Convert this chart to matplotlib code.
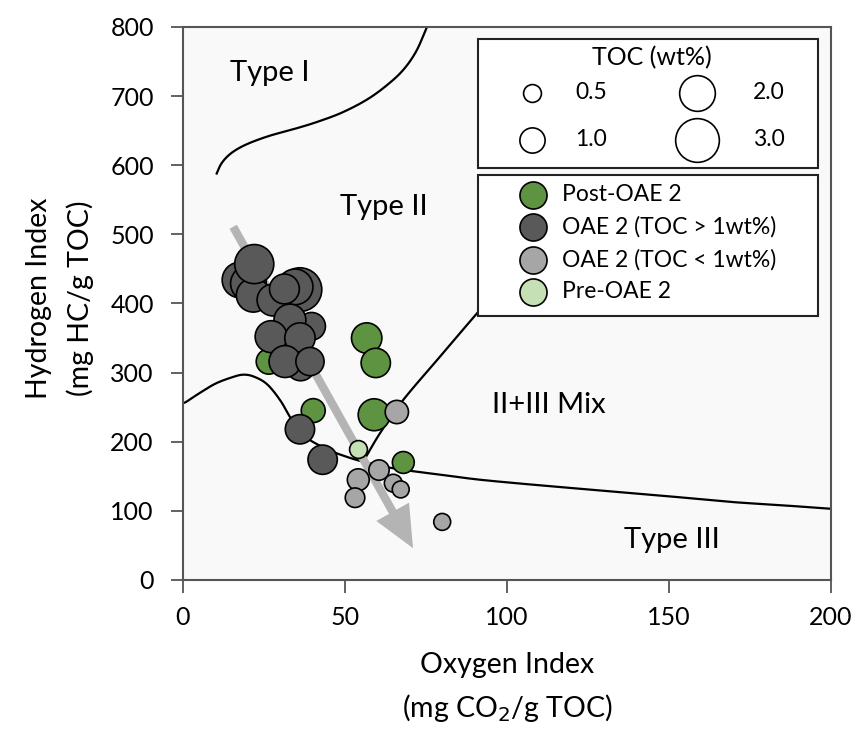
import matplotlib.pyplot as plt
from matplotlib.patches import Rectangle
import numpy as np

plt.rcParams['font.family'] = ['Lato', 'DejaVu Sans']

# boundary curves
type1_x = [10.4, 11.8, 14, 17, 21, 27, 34, 41, 49, 56.8, 63, 68, 72, 75.3]
type1_y = [588, 602, 614, 624, 633, 643, 652, 662, 676, 695, 716, 738, 765, 800]

low_x = [0, 1.1, 5, 10, 15, 18.6, 22, 26, 30, 33, 36, 39.3, 45, 50, 55.6, 62, 70, 80, 91.7, 110, 130, 150, 168.8, 185, 200]
low_y = [256, 258, 270, 284, 293, 297, 294, 283, 260, 236, 215, 202, 188, 179, 171, 164, 158, 152, 145, 137, 129, 121, 113, 108, 103]

mix_x = [55.6, 60.9, 67.9, 79.3, 91.7, 110]
mix_y = [171, 213, 260, 323, 391, 490]

# samples: oxygen index, hydrogen index, TOC
post_oi = [26.5, 56.7, 59.5, 59.0, 40.2, 68.0]
post_hi = [316, 350, 314, 239, 245, 170]
post_toc = [1.0, 1.45, 1.35, 1.6, 0.9, 0.75]

pre_oi = [53.9]
pre_hi = [190]
pre_toc = [0.5]

low_oi = [66.0, 60.5, 54.1, 53.1, 64.9, 67.2, 80.0]
low_hi = [243, 159, 145, 119, 140, 131, 84]
low_toc = [0.85, 0.65, 0.75, 0.6, 0.5, 0.45, 0.45]

high_oi = [36.1, 34.6, 17.6, 20.2, 21.7, 27.8, 22.0, 31.3, 39.7, 33.0, 27.2, 36.1, 36.3, 31.5, 39.2, 36.1, 43.1]
high_hi = [420, 424, 434, 429, 412, 405, 457, 421, 367, 376, 352, 350, 309, 316, 316, 218, 174]
high_toc = [3.0, 2.0, 2.0, 2.0, 1.8, 1.6, 2.4, 1.4, 1.2, 1.6, 1.6, 1.45, 1.3, 1.6, 1.25, 1.35, 1.35]

legend_toc = [0.5, 1.0, 2.0, 3.0]
grp_labels = ['Post-OAE 2', 'OAE 2 (TOC > 1wt%)', 'OAE 2 (TOC < 1wt%)', 'Pre-OAE 2']

c_post = '#5e9441'
c_high = '#595959'
c_low = '#a6a6a6'
c_pre = '#c5e0b4'
grp_colors = [c_post, c_high, c_low, c_pre]
S = 330  # marker area per wt% TOC


def smooth(xs, ys, n=20):
    # catmull-rom through the read-off points, just to draw a smooth line
    p = np.column_stack([xs, ys]).astype(float)
    p = np.vstack([2 * p[0] - p[1], p, 2 * p[-1] - p[-2]])
    t = np.linspace(0, 1, n, endpoint=False)[:, None]
    out = []
    for i in range(1, len(p) - 2):
        p0, p1, p2, p3 = p[i - 1], p[i], p[i + 1], p[i + 2]
        out.append(0.5 * ((2 * p1) + (-p0 + p2) * t + (2 * p0 - 5 * p1 + 4 * p2 - p3) * t ** 2
                          + (-p0 + 3 * p1 - 3 * p2 + p3) * t ** 3))
    out.append(p[-2][None, :])
    out = np.vstack(out)
    return out[:, 0], out[:, 1]


fig = plt.figure(figsize=(8.57, 7.31), dpi=100)
ax = fig.add_axes([0.2135, 0.2066, 0.7562, 0.7565])
ax.set_facecolor('#f9f9f9')

for xs, ys in [(type1_x, type1_y), (low_x, low_y), (mix_x, mix_y)]:
    sx, sy = smooth(xs, ys)
    ax.plot(sx, sy, color='black', lw=1.6, zorder=2)

ax.annotate('', xy=(71, 46), xytext=(15.5, 511),
            arrowprops=dict(arrowstyle='simple,head_length=1.5,head_width=1.35,tail_width=0.3',
                            mutation_scale=20, color='#b4b4b4', lw=0, shrinkA=0, shrinkB=0),
            zorder=3)

kw = dict(edgecolors='black', linewidths=1.2)
ax.scatter(post_oi, post_hi, s=[S * t for t in post_toc], c=c_post, zorder=4, **kw)
ax.scatter(pre_oi, pre_hi, s=[S * t for t in pre_toc], c=c_pre, zorder=4, **kw)
ax.scatter(low_oi, low_hi, s=[S * t for t in low_toc], c=c_low, zorder=4, **kw)
ax.scatter(high_oi, high_hi, s=[S * t for t in high_toc], c=c_high, zorder=5, **kw)

ax.text(26.9, 733, 'Type I', fontsize=21, ha='center', va='center')
ax.text(62, 540, 'Type II', fontsize=21, ha='center', va='center')
ax.text(113, 253, 'II+III Mix', fontsize=21, ha='center', va='center')
ax.text(151, 58, 'Type III', fontsize=21, ha='center', va='center')

ax.set_xlim(0, 200)
ax.set_ylim(0, 800)
ax.set_xticks([0, 50, 100, 150, 200])
ax.set_yticks(range(0, 801, 100))
ax.tick_params(labelsize=18, length=9, width=1.3, color='#555555', pad=10)
ax.tick_params(axis='y', pad=12)
for sp in ax.spines.values():
    sp.set_color('#555555')
    sp.set_linewidth(1.5)

fig.text(507 / 857, 1 - 688 / 731, 'Oxygen Index\n(mg CO$_2$/g TOC)', fontsize=20.5,
         ha='center', va='center', linespacing=1.6)
fig.text(60 / 857, 1 - 298 / 731, 'Hydrogen Index\n(mg HC/g TOC)', fontsize=20.5,
         ha='center', va='center', rotation=90, linespacing=1.6)


# legend boxes, placed in pixel positions of the figure
def fx(px):
    return (px - 183) / 648


def fy(py):
    return (580 - py) / 553


tr = ax.transAxes
for top, bot in [(39, 168), (175, 316)]:
    ax.add_patch(Rectangle((fx(478), fy(bot)), fx(818) - fx(478), fy(top) - fy(bot),
                           transform=tr, facecolor='white', edgecolor='#222222', lw=1.5,
                           zorder=10, clip_on=False))

ax.text(fx(652), fy(58), 'TOC (wt%)', transform=tr, fontsize=18, ha='center', va='center',
        zorder=11)
size_pos = [(532, 93, 575), (532, 140, 575), (697, 93, 753), (697, 140, 753)]
for t, (mx, my, lx) in zip(legend_toc, size_pos):
    ax.scatter([fx(mx)], [fy(my)], s=S * t, transform=tr, facecolor='white',
               edgecolor='black', linewidths=1.2, zorder=11, clip_on=False)
    ax.text(fx(lx), fy(my), '%.1f' % t, transform=tr, fontsize=16.5, ha='left',
            va='center', zorder=11)

for i, (lab, c) in enumerate(zip(grp_labels, grp_colors)):
    my = 195 + i * 32.3
    ax.scatter([fx(533)], [fy(my)], s=380, transform=tr, facecolor=c, edgecolor='black',
               linewidths=1.2, zorder=11, clip_on=False)
    ax.text(fx(562), fy(my), lab, transform=tr, fontsize=16.5, ha='left', va='center',
            zorder=11)

fig.savefig('out.png', dpi=100)
